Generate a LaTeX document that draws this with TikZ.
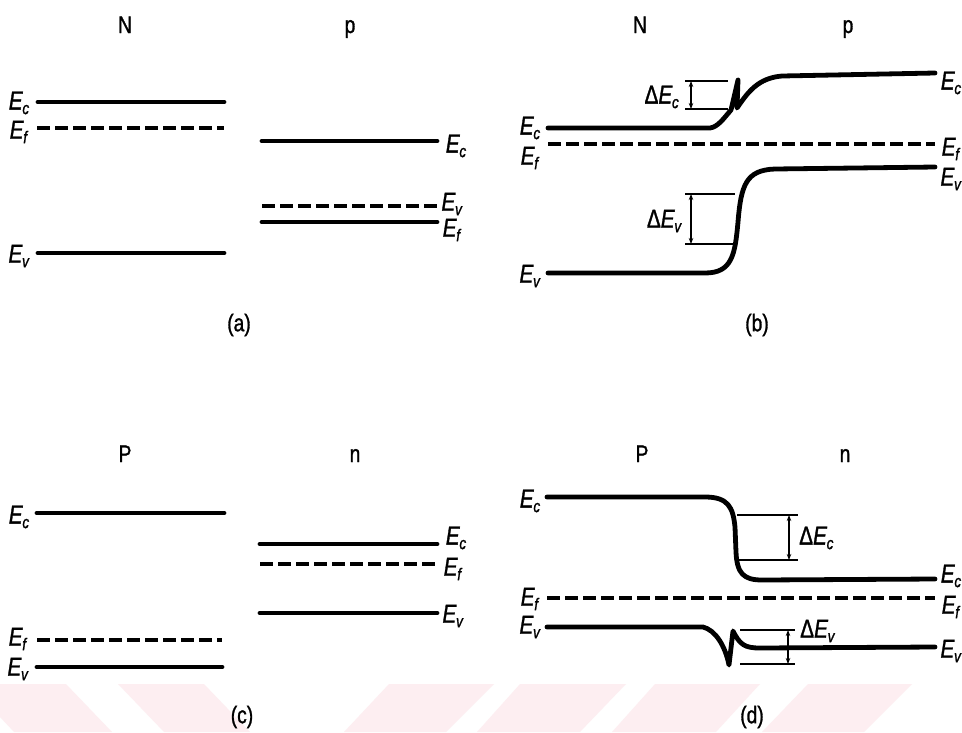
\documentclass[tikz,border=0pt]{standalone}
\usepackage{fontspec}
\setmainfont{Liberation Sans}[FakeStretch=0.8, FakeBold=1.2]
\usetikzlibrary{arrows.meta}
\definecolor{wmark}{RGB}{253,238,241}
\newcommand{\En}[1]{\textit{E}\kern-0.5pt\raisebox{-4.5pt}{\fontsize{17}{17}\selectfont\textit{#1}}}
\tikzset{
  band/.style={line width=4.8pt, line cap=round, line join=round},
  fermi/.style={line width=3.6pt, dash pattern=on 13pt off 5pt},
  guide/.style={line width=1.3pt},
  gaparrow/.style={line width=1.2pt, {Stealth[length=6pt,width=4.5pt]}-{Stealth[length=6pt,width=4.5pt]}},
  elab/.style={inner sep=0pt, font=\fontsize{26}{26}\selectfont},
  head/.style={inner sep=0pt, anchor=base, font=\fontsize{24}{24}\selectfont},
  capt/.style={inner sep=0pt, font=\fontsize{24}{24}\selectfont},
}
\begin{document}
\begin{tikzpicture}[x=1pt, y=-1pt]
\useasboundingbox (0,0) rectangle (962,732);
\fill[white] (0,0) rectangle (962,732);
% watermark stripes
\fill[wmark] (0,684) -- (66,684) -- (112,732) -- (14,732) -- (0,717) -- cycle;
\fill[wmark] (118,684) -- (204,684) -- (250,732) -- (164,732) -- cycle;
\fill[wmark] (389,684) -- (494,684) -- (446,732) -- (344,732) -- cycle;
\fill[wmark] (520,684) -- (626,684) -- (580,732) -- (477,732) -- cycle;
\fill[wmark] (655,684) -- (760,684) -- (716,732) -- (612,732) -- cycle;
\fill[wmark] (808,684) -- (912,684) -- (864,732) -- (762,732) -- cycle;

% ---------------- (a) ----------------
\node[head] (aN) at (125,33) {N};
\node[head] (ap) at (350,33) {p};
\coordinate (aEc1) at (38,102);  \coordinate (aEc2) at (224,102);
\coordinate (aEf1) at (37,128);  \coordinate (aEf2) at (224,128);
\coordinate (aEv1) at (38,253);  \coordinate (aEv2) at (224,253);
\coordinate (apc1) at (262,141); \coordinate (apc2) at (437,141);
\coordinate (apd1) at (262,206); \coordinate (apd2) at (437,206);
\coordinate (aps1) at (262,222); \coordinate (aps2) at (437,222);
\draw[band] (aEc1) -- (aEc2);
\draw[fermi] (aEf1) -- (aEf2);
\draw[band] (aEv1) -- (aEv2);
\draw[band] (apc1) -- (apc2);
\draw[fermi] (apd1) -- (apd2);
\draw[band] (aps1) -- (aps2);
\node[elab] (aLc) at (19,103) {\En{c}};
\node[elab] (aLf) at (19,132) {\En{f}};
\node[elab] (aLv) at (19,256) {\En{v}};
\node[elab] (aRc) at (456,146) {\En{c}};
\node[elab] (aRv) at (452,204) {\En{v}};
\node[elab] (aRf) at (452,230) {\En{f}};
\node[capt] (acap) at (239,325) {(a)};

% ---------------- (b) ----------------
\node[head] (bN) at (640,33) {N};
\node[head] (bp) at (848,33) {p};
\coordinate (bEc1) at (548,128); \coordinate (bEc2) at (935,73);
\coordinate (bEf1) at (548,144); \coordinate (bEf2) at (935,144);
\coordinate (bEv1) at (548,273); \coordinate (bEv2) at (935,167);
\draw[band] (bEc1) -- (710,128) .. controls (718,127) and (724,118) .. (731,110)
   -- (738,80) -- (737,108) .. controls (748,92) and (758,78) .. (782,76) -- (bEc2);
\draw[fermi] (bEf1) -- (bEf2);
\draw[band] (bEv1) -- (705,273) .. controls (732,273) and (735,255) .. (738,222)
   .. controls (741,185) and (746,170) .. (775,169) -- (bEv2);
\coordinate (bc1a) at (685,81);  \coordinate (bc1b) at (728,81);
\coordinate (bc2a) at (685,109); \coordinate (bc2b) at (728,109);
\draw[guide] (bc1a) -- (bc1b);
\draw[guide] (bc2a) -- (bc2b);
\coordinate (bca) at (691,81); \coordinate (bcb) at (691,109);
\draw[gaparrow] (bca) -- (bcb);
\node[elab, anchor=east] (bdc) at (679,97) {Δ\En{c}};
\coordinate (bv1a) at (685,194); \coordinate (bv1b) at (735,194);
\coordinate (bv2a) at (685,244); \coordinate (bv2b) at (735,244);
\draw[guide] (bv1a) -- (bv1b);
\draw[guide] (bv2a) -- (bv2b);
\coordinate (bva) at (691,194); \coordinate (bvb) at (691,244);
\draw[gaparrow] (bva) -- (bvb);
\node[elab, anchor=east] (bdv) at (682,221) {Δ\En{v}};
\node[elab] (bLc) at (530,128) {\En{c}};
\node[elab] (bLf) at (530,158) {\En{f}};
\node[elab] (bLv) at (530,276) {\En{v}};
\node[elab] (bRc) at (951,83) {\En{c}};
\node[elab] (bRf) at (951,149) {\En{f}};
\node[elab] (bRv) at (951,179) {\En{v}};
\node[capt] (bcap) at (757,325) {(b)};

% ---------------- (c) ----------------
\node[head] (cP) at (125,462) {P};
\node[head] (cn) at (355,462) {n};
\coordinate (cEc1) at (37,513);  \coordinate (cEc2) at (224,513);
\coordinate (cEf1) at (37,640);  \coordinate (cEf2) at (222,640);
\coordinate (cEv1) at (37,667);  \coordinate (cEv2) at (222,667);
\coordinate (cnc1) at (260,544); \coordinate (cnc2) at (437,544);
\coordinate (cnf1) at (260,564); \coordinate (cnf2) at (437,564);
\coordinate (cnv1) at (260,613); \coordinate (cnv2) at (437,613);
\draw[band] (cEc1) -- (cEc2);
\draw[fermi] (cEf1) -- (cEf2);
\draw[band] (cEv1) -- (cEv2);
\draw[band] (cnc1) -- (cnc2);
\draw[fermi] (cnf1) -- (cnf2);
\draw[band] (cnv1) -- (cnv2);
\node[elab] (cLc) at (19,517) {\En{c}};
\node[elab] (cLf) at (18,639) {\En{f}};
\node[elab] (cLv) at (18,669) {\En{v}};
\node[elab] (cRc) at (456,538) {\En{c}};
\node[elab] (cRf) at (453,569) {\En{f}};
\node[elab] (cRv) at (453,616) {\En{v}};
\node[capt] (ccap) at (242,717) {(c)};

% ---------------- (d) ----------------
\node[head] (dP) at (642,462) {P};
\node[head] (dn) at (845,462) {n};
\coordinate (dEc1) at (547,497); \coordinate (dEc2) at (935,579);
\coordinate (dEf1) at (547,598); \coordinate (dEf2) at (935,598);
\coordinate (dEv1) at (547,627); \coordinate (dEv2) at (935,647);
\draw[band] (dEc1) -- (705,497) .. controls (728,497) and (733,507) .. (735,527)
   -- (736,552) .. controls (737,573) and (743,580) .. (762,580) -- (dEc2);
\draw[fermi] (dEf1) -- (dEf2);
\draw[band] (dEv1) -- (703,627) .. controls (715,630) and (725,645) .. (729,665)
   -- (733,631) .. controls (740,645) and (745,648) .. (760,648) -- (dEv2);
\coordinate (dc1a) at (737,515); \coordinate (dc1b) at (798,515);
\coordinate (dc2a) at (737,560); \coordinate (dc2b) at (798,560);
\draw[guide] (dc1a) -- (dc1b);
\draw[guide] (dc2a) -- (dc2b);
\coordinate (dca) at (789,515); \coordinate (dcb) at (789,560);
\draw[gaparrow] (dca) -- (dcb);
\node[elab, anchor=west] (ddc) at (799,538) {Δ\En{c}};
\coordinate (dv1a) at (740,630); \coordinate (dv1b) at (795,630);
\coordinate (dv2a) at (740,664); \coordinate (dv2b) at (795,664);
\draw[guide] (dv1a) -- (dv1b);
\draw[guide] (dv2a) -- (dv2b);
\coordinate (dva) at (788,630); \coordinate (dvb) at (788,664);
\draw[gaparrow] (dva) -- (dvb);
\node[elab, anchor=west] (ddv) at (800,631) {Δ\En{v}};
\node[elab] (dLc) at (530,501) {\En{c}};
\node[elab] (dLf) at (530,599) {\En{f}};
\node[elab] (dLv) at (530,627) {\En{v}};
\node[elab] (dRc) at (951,576) {\En{c}};
\node[elab] (dRf) at (951,607) {\En{f}};
\node[elab] (dRv) at (951,651) {\En{v}};
\node[capt] (dcap) at (752,717) {(d)};
\end{tikzpicture}
\end{document}
